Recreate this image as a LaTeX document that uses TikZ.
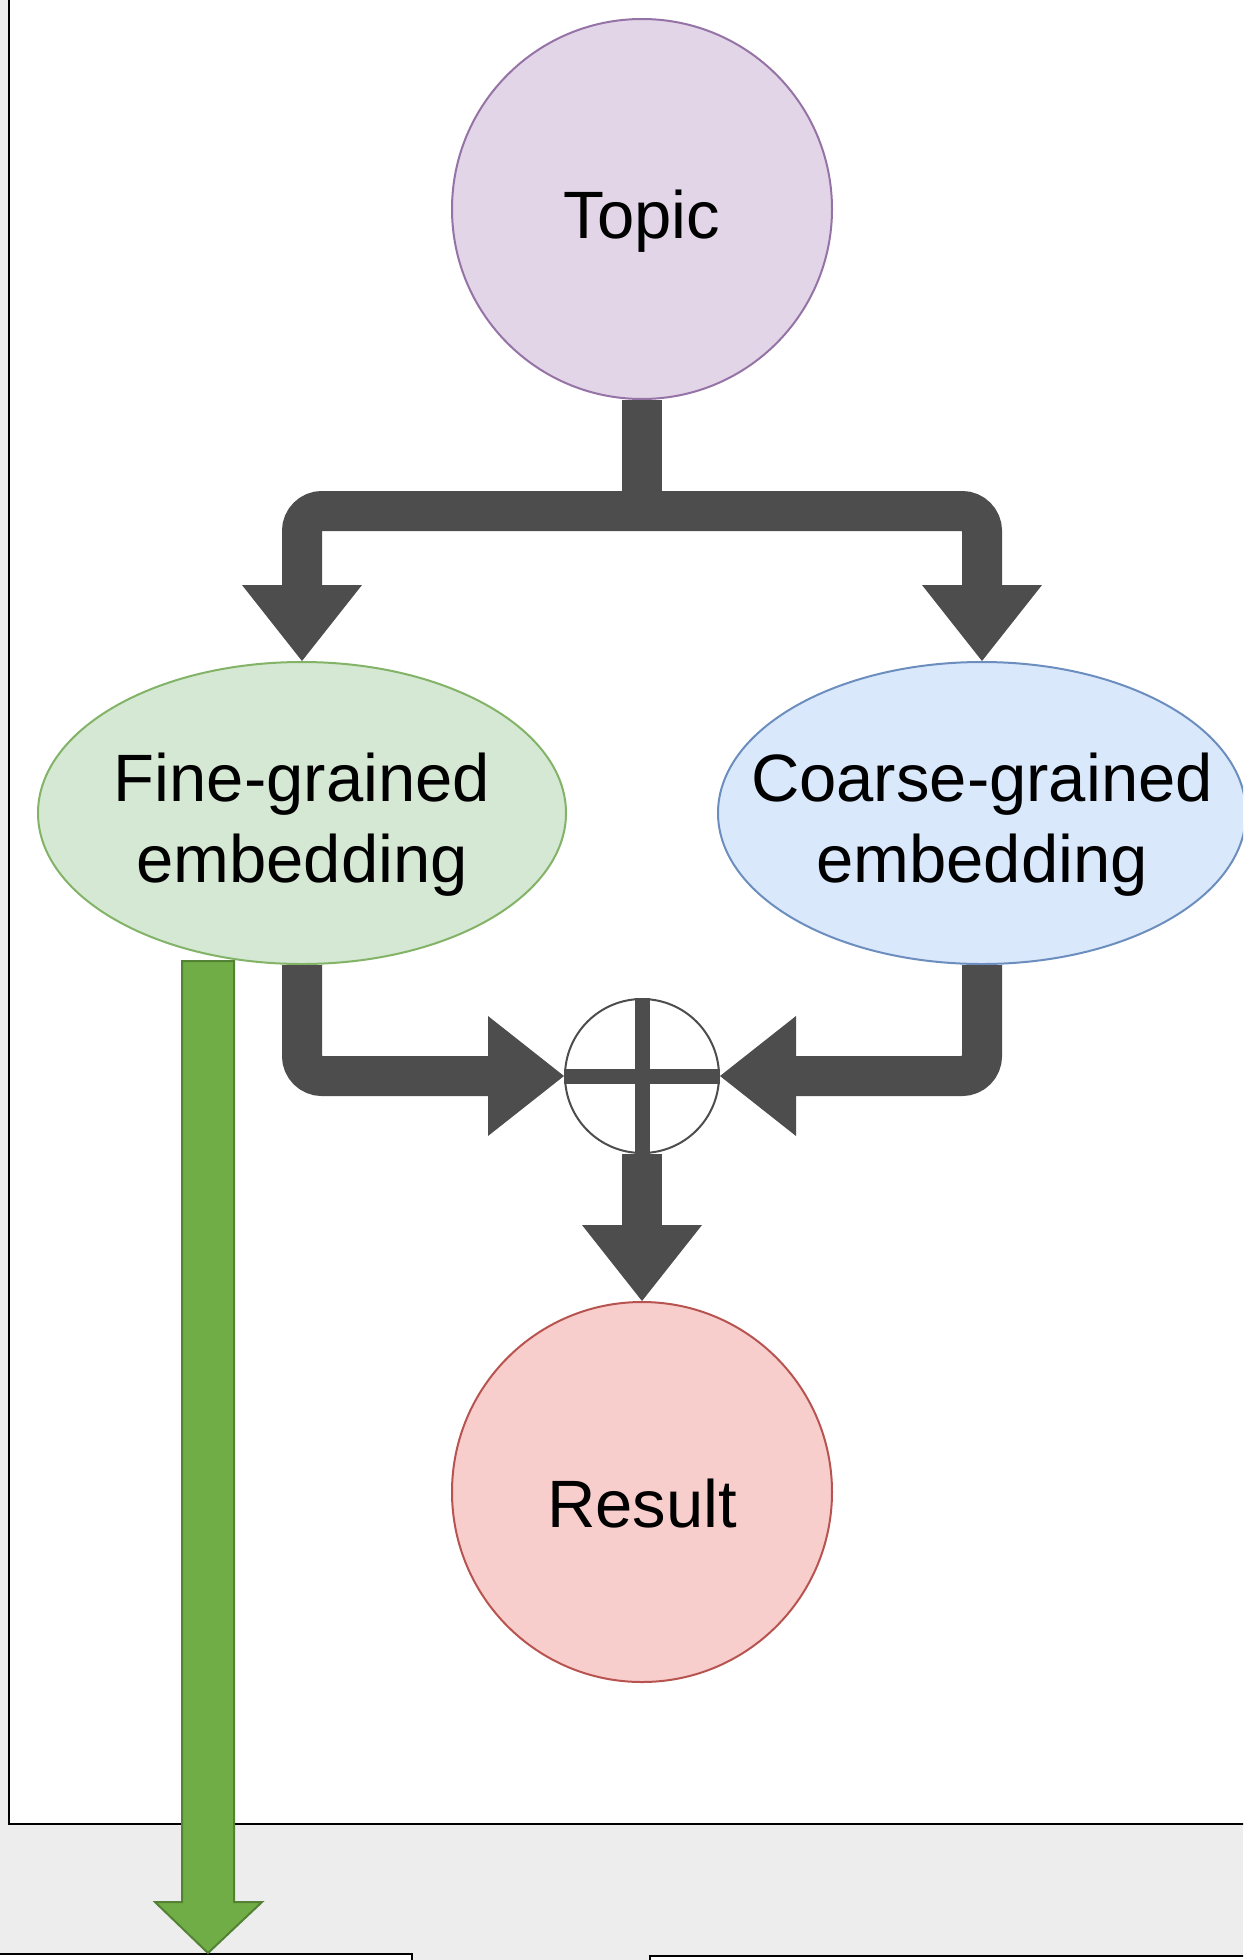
\documentclass[tikz,border=0pt]{standalone}
\usepackage{fontspec}
\setmainfont{Liberation Sans}
\usetikzlibrary{shapes.geometric,arrows.meta,positioning}

\definecolor{bggray}{HTML}{EDEDED}
\definecolor{conngray}{HTML}{4D4D4D}
\definecolor{topicfill}{HTML}{E1D5E7}
\definecolor{topicdraw}{HTML}{9673A6}
\definecolor{finefill}{HTML}{D5E8D4}
\definecolor{finedraw}{HTML}{82B366}
\definecolor{coarsefill}{HTML}{DAE8FC}
\definecolor{coarsedraw}{HTML}{6C8EBF}
\definecolor{resultfill}{HTML}{F8CECC}
\definecolor{resultdraw}{HTML}{B85450}
\definecolor{greenfill}{HTML}{70AD47}
\definecolor{greendraw}{HTML}{548235}

\begin{document}
\begin{tikzpicture}[x=1pt,y=-1pt,
  font=\fontsize{67}{81}\selectfont,
  bigcircle/.style={circle, minimum size=380pt, inner sep=0pt, line width=2pt},
  embed/.style={ellipse, minimum width=528pt, minimum height=302pt, inner sep=0pt, line width=2pt},
  inlabel/.style={label={[align=center, yshift=-12pt]center:#1}},
  conn/.style={draw=conngray, line width=40pt, rounded corners=20pt},
  head/.style={-{Triangle[length=76pt, width=120pt, line width=0pt]}}]
\useasboundingbox (0,0) rectangle (1243,1960);
\clip (0,0) rectangle (1243,1960);
% background and panels
\fill[bggray] (0,0) rectangle (1243,1960);
\draw[fill=white, line width=2pt] (9,-20) rectangle (1263,1824);
\draw[fill=white, line width=2pt] (-20,1954) rectangle (412,1990);
\draw[fill=white, line width=2pt] (650,1956) rectangle (1263,1990);

% nodes
\node[bigcircle, fill=topicfill, draw=topicdraw, inlabel=Topic] (topic) at (642,209) {};
\node[embed, fill=finefill, draw=finedraw, inlabel={Fine-grained\\embedding}] (fine) at (302,813) {};
\node[embed, fill=coarsefill, draw=coarsedraw, inlabel={Coarse-grained\\embedding}] (coarse) at (982,813) {};
\node[circle, minimum size=154pt, inner sep=0pt, draw=conngray, line width=2pt, fill=white] (plus) at (642,1076) {};
\node[bigcircle, fill=resultfill, draw=resultdraw, inlabel=Result] (result) at (642,1492) {};
\coordinate (split) at (642,511);

% plus sign
\draw[conngray, line width=15pt] (plus.north) -- (plus.south) (plus.west) -- (plus.east);

% connectors
\draw[conn] (topic.south) -- (split);
\draw[conn, head] (split) -| (fine.north);
\draw[conn, head] (split) -| (coarse.north);
\draw[conn, head] (fine.south) |- (plus.west);
\draw[conn, head] (coarse.south) |- (plus.east);
\draw[conn, head] (plus.south) -- (result.north);

% green block arrow
\draw[fill=greenfill, draw=greendraw, line width=2pt]
  (182,961) -- (182,1902) -- (155,1902) -- (208,1953) -- (262,1902) -- (234,1902) -- (234,961) -- cycle;
\end{tikzpicture}
\end{document}
